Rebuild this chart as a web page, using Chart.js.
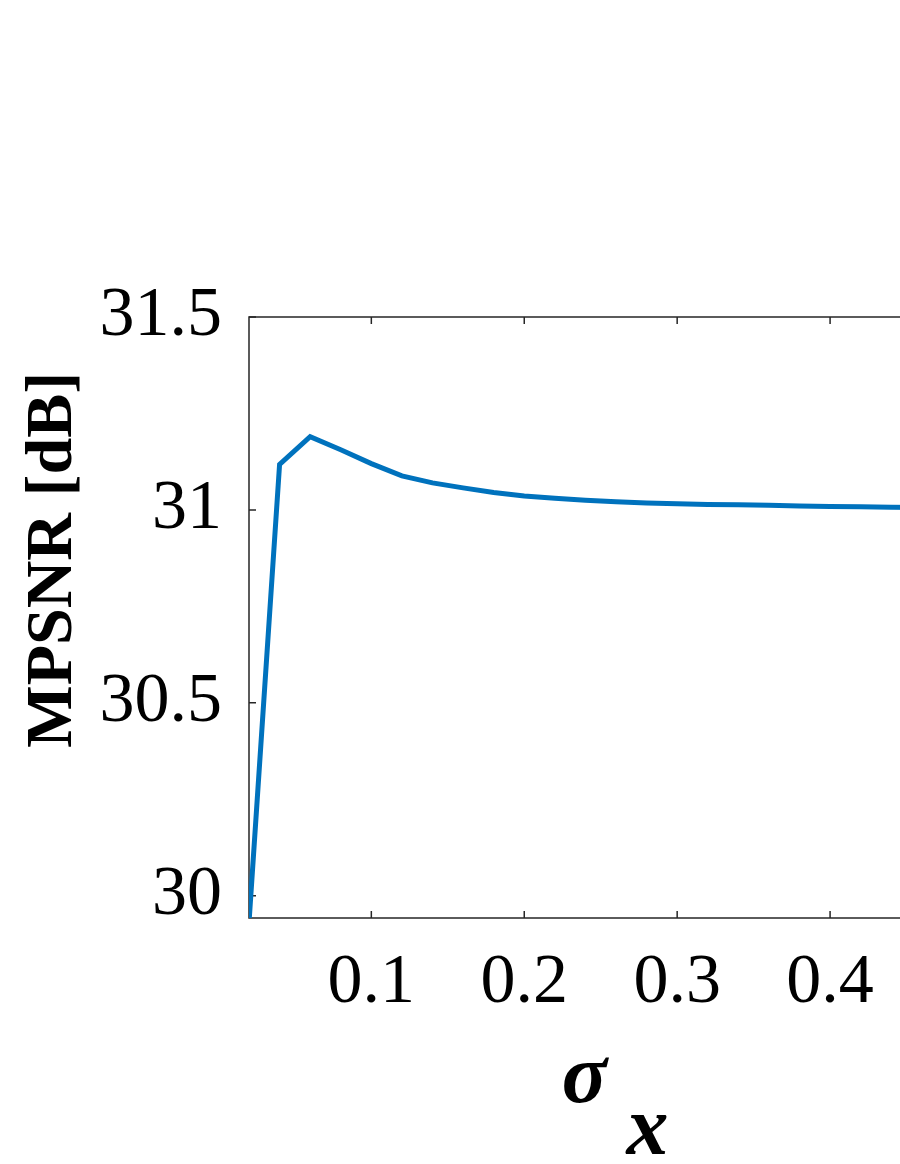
<!DOCTYPE html>
<html>
<head>
<meta charset="utf-8">
<script src="https://cdn.jsdelivr.net/npm/chart.js@4/dist/chart.umd.min.js"></script>
<style>
    html, body { margin: 0; padding: 0; background: #fff; overflow: hidden; width: 900px; height: 1164px; }
    #wrap { position: absolute; left: 0; top: 0; width: 1060px; height: 1164px; }
</style>
</head>
<body>
<div id="wrap"><canvas id="mpsnrChart" width="1060" height="1164"></canvas></div>
<script>
// sigma_x sweep
const sigmaX = [0.02, 0.04, 0.06, 0.08, 0.10, 0.12, 0.14, 0.16, 0.18, 0.20, 0.22, 0.24, 0.26,
    0.28, 0.30, 0.32, 0.34, 0.36, 0.38, 0.40, 0.42, 0.44, 0.46, 0.48, 0.50];
const mpsnr = [29.93, 31.118, 31.19, 31.156, 31.12, 31.088, 31.070, 31.057, 31.045, 31.036, 31.030,
    31.025, 31.021, 31.018, 31.016, 31.014, 31.013, 31.012, 31.010, 31.009, 31.008, 31.007,
    31.006, 31.006, 31.005];

const xTicks = [0.1, 0.2, 0.3, 0.4, 0.5];
const yTicks = [30, 30.5, 31, 31.5];

const axisColor = '#262626';
const lineColor = '#0072BD';

// MATLAB style box with inward ticks
const boxPlugin = {
    id: 'matlabBox',
    beforeDatasetsDraw(chart) {
        const { ctx, chartArea: { left, top, right, bottom }, scales: { x, y } } = chart;
        ctx.save();
        ctx.strokeStyle = axisColor;
        ctx.lineWidth = 1.5;
        ctx.strokeRect(left, top, right - left, bottom - top);
        ctx.beginPath();
        x.ticks.forEach(t => {
            const px = x.getPixelForValue(t.value);
            ctx.moveTo(px, bottom); ctx.lineTo(px, bottom - 7);
            ctx.moveTo(px, top); ctx.lineTo(px, top + 7);
        });
        y.ticks.forEach(t => {
            const py = y.getPixelForValue(t.value);
            ctx.moveTo(left, py); ctx.lineTo(left + 7, py);
            ctx.moveTo(right, py); ctx.lineTo(right - 7, py);
        });
        ctx.stroke();
        ctx.restore();
    }
};

new Chart(document.getElementById('mpsnrChart'), {
    type: 'line',
    data: {
        datasets: [{
            data: sigmaX.map((v, i) => ({ x: v, y: mpsnr[i] })),
            borderColor: lineColor,
            borderWidth: 5,
            pointRadius: 0,
            tension: 0,
            clip: 0
        }]
    },
    options: {
        responsive: false,
        animation: false,
        layout: { padding: { left: 0, top: 317, right: 77, bottom: 0 } },
        plugins: { legend: { display: false }, tooltip: { enabled: false } },
        scales: {
            x: {
                type: 'linear',
                min: 0.02,
                max: 0.5,
                grid: { display: false, drawTicks: false },
                border: { display: false },
                afterBuildTicks: s => { s.ticks = xTicks.map(v => ({ value: v })); },
                afterFit: s => { s.height = 246; },
                ticks: {
                    color: '#000',
                    padding: 24,
                    maxRotation: 0,
                    font: { family: 'Liberation Serif', size: 70 },
                    callback: v => String(v)
                },
                title: {
                    display: true,
                    text: ['\u03C3   ', '   x'],
                    color: '#000',
                    padding: { top: 0, bottom: 6 },
                    font: { family: 'Liberation Serif', size: 84, style: 'italic', weight: 'bold', lineHeight: 0.62 }
                }
            },
            y: {
                min: 29.942,
                max: 31.5,
                grid: { display: false, drawTicks: false },
                border: { display: false },
                afterBuildTicks: s => { s.ticks = yTicks.map(v => ({ value: v })); },
                afterFit: s => { s.width = 249; },
                ticks: {
                    color: '#000',
                    padding: 27,
                    font: { family: 'Liberation Serif', size: 70 },
                    callback: v => String(v)
                },
                title: {
                    display: true,
                    text: '       MPSNR [dB]',
                    color: '#000',
                    padding: { top: 14, bottom: 0 },
                    font: { family: 'Liberation Serif', size: 66, weight: 'bold' }
                }
            }
        }
    },
    plugins: [boxPlugin]
});
</script>
</body>
</html>
